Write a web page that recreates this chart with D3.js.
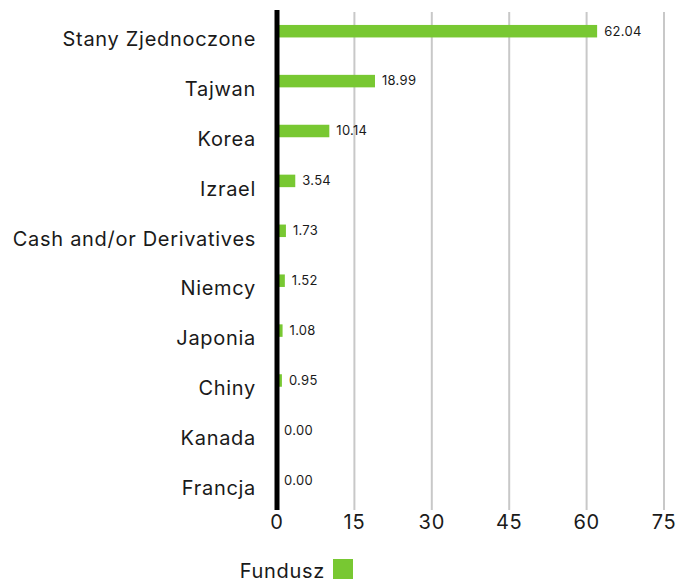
<html>
<script src="https://d3js.org/d3.v7.min.js"></script>
<style>
body { margin: 0; background: #fff; }
text { font-family: "Inter", "Noto Sans", sans-serif; fill: #1a1a1a; }
</style>
<body>
<svg width="678" height="580"></svg>
<script>
var categories = ["Stany Zjednoczone", "Tajwan", "Korea", "Izrael", "Cash and/or Derivatives", "Niemcy", "Japonia", "Chiny", "Kanada", "Francja"];
var values = [62.04, 18.99, 10.14, 3.54, 1.73, 1.52, 1.08, 0.95, 0.00, 0.00];
var ticks = [0, 15, 30, 45, 60, 75];
var seriesName = "Fundusz";
var green = "#78c832";

var svg = d3.select("svg");

var x = d3.scaleLinear().domain([0, 75]).range([277, 664]);
var y = d3.scaleBand().domain(categories).range([6, 505]);

// grid
svg.append("g").selectAll("line")
  .data(ticks.slice(1))
  .enter().append("line")
  .attr("x1", d => x(d)).attr("x2", d => x(d))
  .attr("y1", 12).attr("y2", 510)
  .attr("stroke", "#c8c8c8").attr("stroke-width", 2);

// bars
svg.append("g").selectAll("rect")
  .data(values)
  .enter().append("rect")
  .attr("x", x(0))
  .attr("y", (d, i) => y(categories[i]) + y.bandwidth() / 2 - 6)
  .attr("width", d => x(d) - x(0))
  .attr("height", 12.5)
  .attr("fill", green);

// value labels
svg.append("g").selectAll("text")
  .data(values)
  .enter().append("text")
  .attr("x", d => x(d) + 7)
  .attr("y", (d, i) => y(categories[i]) + y.bandwidth() / 2)
  .attr("dy", "0.35em")
  .attr("font-size", 13)
  .attr("letter-spacing", 0.3)
  .text(d => d.toFixed(2));

// category labels
svg.append("g").selectAll("text")
  .data(categories)
  .enter().append("text")
  .attr("x", 256)
  .attr("y", d => y(d) + y.bandwidth() / 2 + 8)
  .attr("dy", "0.35em")
  .attr("text-anchor", "end")
  .attr("font-size", 20)
  .attr("letter-spacing", 0.7)
  .text(d => d);

// zero line
svg.append("line")
  .attr("x1", x(0)).attr("x2", x(0))
  .attr("y1", 10).attr("y2", 510)
  .attr("stroke", "#000").attr("stroke-width", 5);

// x axis tick labels
svg.append("g").selectAll("text")
  .data(ticks)
  .enter().append("text")
  .attr("x", d => x(d))
  .attr("y", 522)
  .attr("dy", "0.35em")
  .attr("text-anchor", "middle")
  .attr("font-size", 20)
  .attr("letter-spacing", 0.7)
  .text(d => d);

// legend
svg.append("text")
  .attr("x", 325).attr("y", 571)
  .attr("dy", "0.35em")
  .attr("text-anchor", "end")
  .attr("font-size", 20)
  .attr("letter-spacing", 0.7)
  .text(seriesName);
svg.append("rect")
  .attr("x", 333).attr("y", 559)
  .attr("width", 20).attr("height", 20)
  .attr("fill", green);
</script>
</body>
</html>
